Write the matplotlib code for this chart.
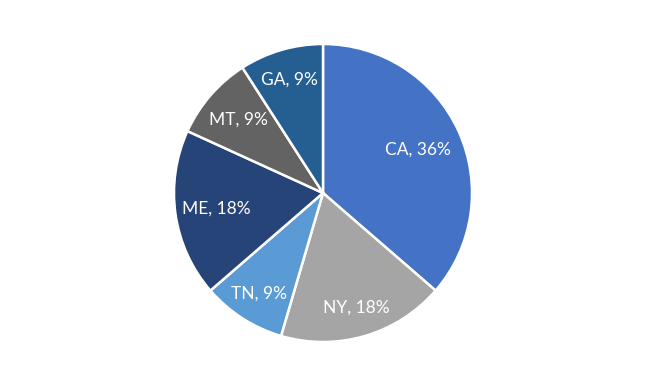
import numpy as np
import matplotlib
matplotlib.use("Agg")
import matplotlib.pyplot as plt

states = ["CA", "NY", "TN", "ME", "MT", "GA"]
counts = [4, 2, 1, 2, 1, 1]
colors = ["#4472C4", "#A5A5A5", "#5B9BD5", "#264478", "#636363", "#255E91"]
# where each label sits, as a fraction of the radius
label_r = [0.70, 0.80, 0.80, 0.72, 0.75, 0.79]

fig = plt.figure(figsize=(6.45, 3.87), dpi=100)
cx, cy, r = 323, 193, 149
ax = fig.add_axes([(cx - r) / 645, (387 - cy - r) / 387, 2 * r / 645, 2 * r / 387])

wedges, _ = ax.pie(counts, colors=colors, startangle=90, counterclock=False,
                   wedgeprops=dict(edgecolor="white", linewidth=1.8))

total = sum(counts)
for w, name, c, lr in zip(wedges, states, counts, label_r):
    mid = np.deg2rad((w.theta1 + w.theta2) / 2)
    pct = round(100 * c / total)
    ax.text(lr * np.cos(mid), lr * np.sin(mid), f"{name}, {pct}%",
            ha="center", va="center", color="white", fontsize=12.5, family="Lato")

ax.set_xlim(-1, 1)
ax.set_ylim(-1, 1)
fig.savefig("out.png", dpi=100)
